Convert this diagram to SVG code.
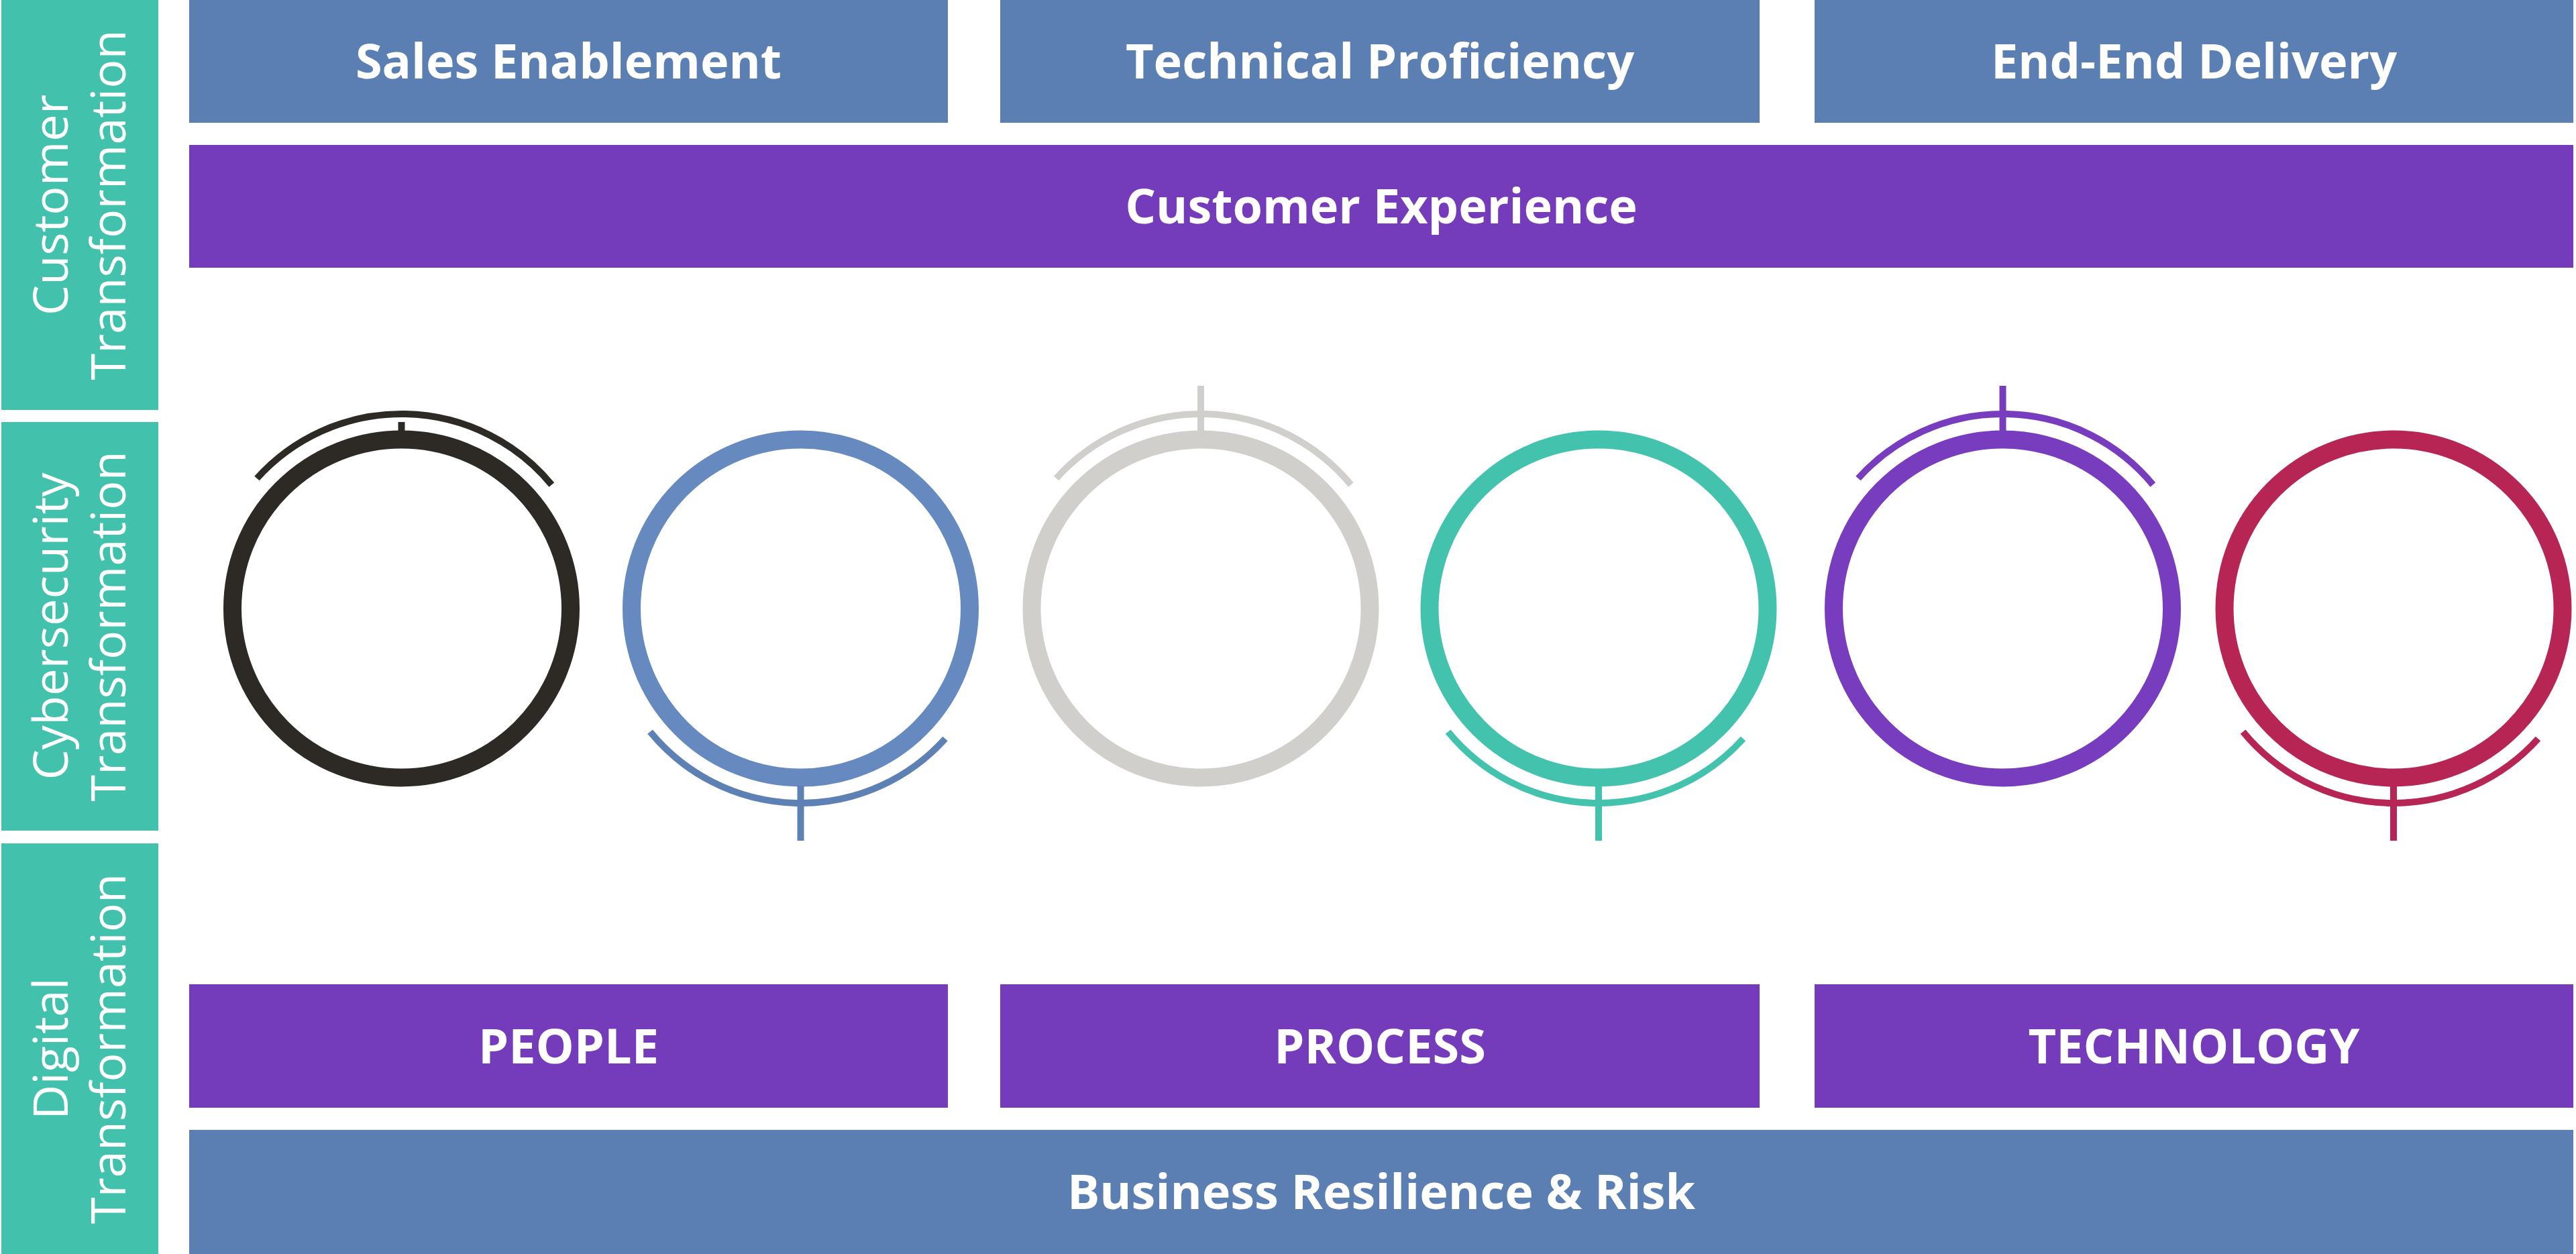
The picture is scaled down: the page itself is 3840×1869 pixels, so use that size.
<svg xmlns="http://www.w3.org/2000/svg" width="3840" height="1869" viewBox="0 0 3840 1869">
<style>
.band{fill:#42c2ac}
.blue{fill:#5b7fb3}
.purple{fill:#743bbb}
.lbl{font-family:"Open Sans","Noto Sans","Liberation Sans",sans-serif;font-weight:700;font-size:72px;fill:#ffffff;text-anchor:middle}
.vlbl{font-family:"Open Sans","Noto Sans","Liberation Sans",sans-serif;font-weight:400;font-size:72px;fill:#ffffff;text-anchor:middle}
.ring{fill:none;stroke-width:27}
.arc{fill:none;stroke-width:10}
.tick{stroke-width:10}
</style>
<rect width="3840" height="1869" fill="#ffffff"/>

<g id="band-customer">
<rect class="band" x="2" y="0" width="234" height="611"/>
<text class="vlbl" transform="translate(101,305.5) rotate(-90)">Customer</text>
<text class="vlbl" transform="translate(187,305.5) rotate(-90)">Transformation</text>
</g>
<g id="band-cyber">
<rect class="band" x="2" y="629" width="234" height="609"/>
<text class="vlbl" transform="translate(101,933.5) rotate(-90)">Cybersecurity</text>
<text class="vlbl" transform="translate(187,933.5) rotate(-90)">Transformation</text>
</g>
<g id="band-digital">
<rect class="band" x="2" y="1257" width="234" height="612"/>
<text class="vlbl" transform="translate(101,1563) rotate(-90)">Digital</text>
<text class="vlbl" transform="translate(187,1563) rotate(-90)">Transformation</text>
</g>

<g id="sales-enablement">
<rect class="blue" x="282" y="0" width="1131" height="183"/>
<text class="lbl" x="847.5" y="117">Sales Enablement</text>
</g>
<g id="technical-proficiency">
<rect class="blue" x="1491" y="0" width="1132" height="183"/>
<text class="lbl" x="2057" y="117">Technical Proficiency</text>
</g>
<g id="end-end-delivery">
<rect class="blue" x="2705" y="0" width="1131" height="183"/>
<text class="lbl" x="3270.5" y="117">End-End Delivery</text>
</g>
<g id="customer-experience">
<rect class="purple" x="282" y="216" width="3554" height="183"/>
<text class="lbl" x="2059" y="333">Customer Experience</text>
</g>

<g id="ring-black" transform="translate(598.5,907)">
<circle class="ring" r="252" stroke="#2d2a26"/>
<path class="arc" stroke="#2d2a26" d="M -215.5,-194 A 290 290 0 0 1 223.8,-184.5"/>
<line class="tick" stroke="#2d2a26" x1="0" y1="-278" x2="0" y2="-262"/>
</g>
<g id="ring-blue" transform="translate(1193.5,907)">
<circle class="ring" r="252" stroke="#6689c0"/>
<path class="arc" stroke="#5d80b5" d="M -224.4,183.7 A 290 290 0 0 0 215.5,194"/>
<line class="tick" stroke="#5d80b5" x1="0" y1="264" x2="0" y2="346"/>
</g>
<g id="ring-gray" transform="translate(1790,907)">
<circle class="ring" r="252" stroke="#d0cfcb"/>
<path class="arc" stroke="#d0cfcb" d="M -215.5,-194 A 290 290 0 0 1 223.8,-184.5"/>
<line class="tick" stroke="#d0cfcb" x1="0" y1="-332" x2="0" y2="-264"/>
</g>
<g id="ring-teal" transform="translate(2383,907)">
<circle class="ring" r="252" stroke="#43c3ad"/>
<path class="arc" stroke="#43c3ad" d="M -224.4,183.7 A 290 290 0 0 0 215.5,194"/>
<line class="tick" stroke="#43c3ad" x1="0" y1="264" x2="0" y2="346"/>
</g>
<g id="ring-purple" transform="translate(2985.5,907)">
<circle class="ring" r="252" stroke="#783cbe"/>
<path class="arc" stroke="#783cbe" d="M -215.5,-194 A 290 290 0 0 1 223.8,-184.5"/>
<line class="tick" stroke="#783cbe" x1="0" y1="-332" x2="0" y2="-264"/>
</g>
<g id="ring-crimson" transform="translate(3568,907)">
<circle class="ring" r="252" stroke="#b72555"/>
<path class="arc" stroke="#b72555" d="M -224.4,183.7 A 290 290 0 0 0 215.5,194"/>
<line class="tick" stroke="#b72555" x1="0" y1="264" x2="0" y2="346"/>
</g>

<g id="people">
<rect class="purple" x="282" y="1467" width="1131" height="184"/>
<text class="lbl" x="847.5" y="1585">PEOPLE</text>
</g>
<g id="process">
<rect class="purple" x="1491" y="1467" width="1132" height="184"/>
<text class="lbl" x="2057" y="1585">PROCESS</text>
</g>
<g id="technology">
<rect class="purple" x="2705" y="1467" width="1131" height="184"/>
<text class="lbl" x="3270.5" y="1585">TECHNOLOGY</text>
</g>
<g id="business-resilience">
<rect class="blue" x="282" y="1684" width="3554" height="185"/>
<text class="lbl" x="2059" y="1802">Business Resilience &amp; Risk</text>
</g>

<g id="connectors"/>
</svg>
